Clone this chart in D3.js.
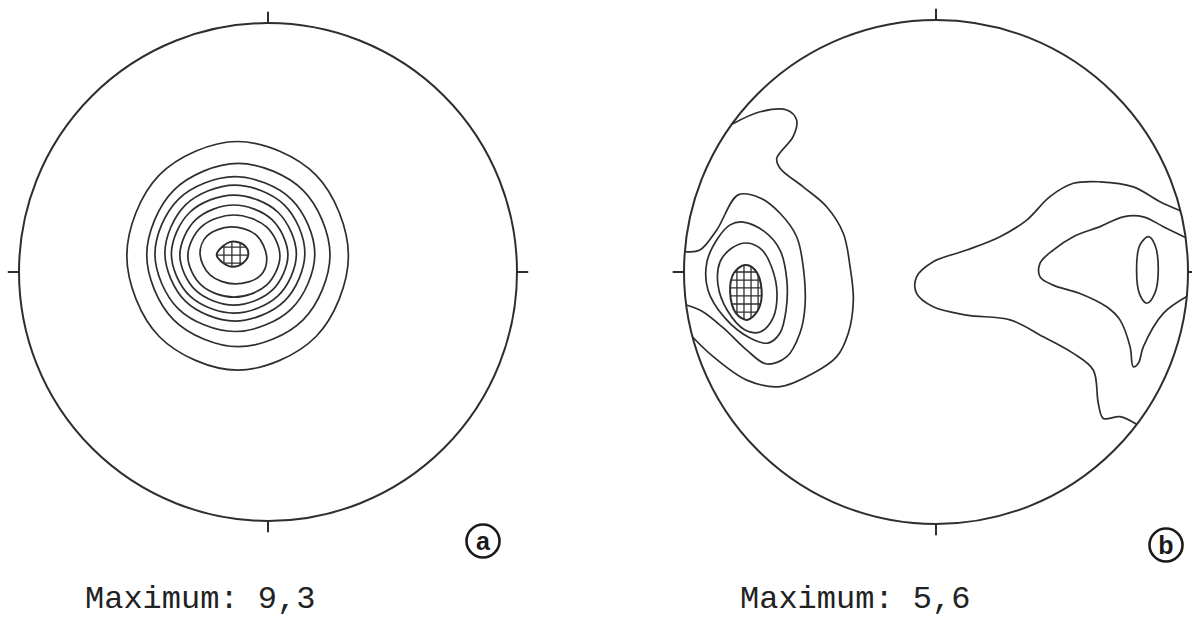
<!DOCTYPE html>
<html><head><meta charset="utf-8">
<script src="https://cdn.jsdelivr.net/npm/d3@7"></script>
<style>body{margin:0;background:#fff}svg{display:block}</style>
</head><body>
<svg id="chart" width="1192" height="621"></svg>
<script>
// ---- data (net coordinates: percent of net radius, x east, y north) ----
const tickAzimuths = [0, 90, 180, 270];
const panelNames = ["a", "b"];
const maxValues = ["9,3", "5,6"];

// Panel a: closed contours, outermost first
const contoursA = [
  [[32.3,6.5],[19.3,38.9],[-12.2,52.4],[-43.7,38.9],[-56.7,6.5],[-43.7,-25.9],[-12.2,-39.4],[19.3,-25.9]],
  [[24.9,6.8],[14.1,32.8],[-11.9,43.6],[-37.9,32.8],[-48.7,6.8],[-37.9,-19.2],[-11.9,-30.0],[14.1,-19.2]],
  [[18.8,7.2],[9.4,29.2],[-13.3,38.3],[-36.0,29.2],[-45.4,7.2],[-36.0,-14.8],[-13.3,-23.9],[9.4,-14.8]],
  [[14.8,7.6],[6.6,26.9],[-13.3,34.9],[-33.2,26.9],[-41.4,7.6],[-33.2,-11.7],[-13.3,-19.7],[6.6,-11.7]],
  [[11.4,7.2],[4.0,24.0],[-13.7,30.9],[-31.4,24.0],[-38.8,7.2],[-31.4,-9.6],[-13.7,-16.5],[4.0,-9.6]],
  [[8.0,6.8],[1.6,21.0],[-13.7,26.9],[-29.0,21.0],[-35.4,6.8],[-29.0,-7.4],[-13.7,-13.3],[1.6,-7.4]],
  [[4.8,6.4],[-0.6,18.1],[-13.7,22.9],[-26.8,18.1],[-32.2,6.4],[-26.8,-5.3],[-13.7,-10.1],[-0.6,-5.3]],
  [[-0.5,5.6],[-4.8,14.9],[-14.9,18.1],[-24.5,14.5],[-27.3,7.2],[-23.3,-1.2],[-13.3,-4.8],[-3.2,-1.6]]
];
const maximumA = [[-20.6,6.8],[-18.5,10.0],[-14.5,12.2],[-9.6,10.8],[-7.9,7.2],[-10.0,3.6],[-14.5,2.1],[-18.5,4.0]];
const hatchXA = [-17.7, -14.5, -11.2];
const hatchYA = [10.0, 6.8, 3.6];

// Panel b: contours that end on the primitive circle
const openContoursB = [
  [[-81.0,58.6],[-69.8,63.6],[-59.2,64.3],[-55.3,60.3],[-56.7,53.7],[-63.2,45.1],[-61.9,41.2],[-52.7,33.8],[-43.4,25.9],[-36.8,15.4],[-34.1,2.1],[-32.8,-11.1],[-34.8,-24.3],[-39.4,-33.6],[-48.7,-40.2],[-61.9,-45.5],[-75.1,-42.9],[-88.4,-33.6],[-96.6,-25.8]],
  [[-99.6,8.1],[-93.7,8.7],[-87.0,16.7],[-78.5,30.6],[-69.8,29.4],[-61.9,23.3],[-55.3,14.0],[-52.7,2.1],[-52.0,-13.8],[-54.0,-24.3],[-59.2,-33.6],[-67.2,-36.5],[-75.1,-31.0],[-84.4,-22.2],[-93.0,-15.5],[-99.1,-13.1]],
  [[97.0,24.3],[88.9,27.9],[78.3,33.8],[65.1,35.8],[54.5,35.2],[45.2,29.9],[36.0,20.6],[25.4,14.0],[12.2,8.7],[-1.1,4.1],[-7.7,-1.9],[-7.7,-8.5],[-1.1,-13.8],[12.2,-17.1],[29.4,-19.0],[42.6,-25.7],[54.5,-32.3],[62.4,-38.9],[64.4,-52.1],[66.4,-58.1],[73.0,-57.4],[79.4,-60.3]],
  [[99.0,13.7],[90.2,18.0],[82.3,21.9],[74.3,21.9],[65.1,18.0],[54.5,14.0],[46.5,8.7],[41.3,3.5],[41.3,-1.9],[46.5,-5.2],[57.1,-8.5],[67.7,-13.8],[73.0,-19.0],[77.0,-29.6],[78.3,-37.6],[80.3,-36.2],[82.3,-29.6],[90.2,-16.4],[99.5,-9.7]]
];
// Panel b: closed contours
const closedContoursB = [
  [[-76.5,19.8],[-67.9,15.9],[-61.9,8.7],[-59.2,-3.2],[-59.5,-15.1],[-61.9,-24.2],[-66.7,-28.2],[-73.8,-26.2],[-83.7,-18.3],[-90.5,-7.1],[-90.9,4.0],[-86.5,13.5],[-81.7,18.7]],
  [[-75.1,11.5],[-69.0,8.7],[-65.1,1.6],[-63.1,-8.3],[-64.7,-18.3],[-69.8,-23.8],[-75.8,-23.0],[-82.9,-15.1],[-86.5,-5.2],[-85.7,4.0],[-81.0,9.5]],
  [[84.3,14.0],[86.9,10.7],[88.2,0.8],[86.9,-8.3],[83.7,-12.4],[80.9,-9.1],[79.6,0.8],[80.9,10.7]]
];
const maximumB = [[-75.8,2.8],[-71.8,0.8],[-69.2,-7.1],[-70.6,-15.1],[-75.0,-19.0],[-79.4,-16.3],[-81.7,-7.9],[-80.2,-0.4]];
const hatchXB = [-79.0, -76.2, -73.4, -70.6];
const hatchYB = [0, -3.2, -6.3, -9.5, -12.7, -15.9];

// ---- layout ----
const panels = [
  {name: panelNames[0], value: maxValues[0], cx: 268, cy: 272, r: 249,
   closed: contoursA, open: [], maxi: maximumA, hx: hatchXA, hy: hatchYA,
   badge: [483, 541], text: [85, 608]},
  {name: panelNames[1], value: maxValues[1], cx: 936, cy: 272, r: 252,
   closed: closedContoursB, open: openContoursB, maxi: maximumB, hx: hatchXB, hy: hatchYB,
   badge: [1166, 545], text: [740, 608]}
];

const svg = d3.select("#chart");
const ink = "#2e2e2e";

panels.forEach((p, i) => {
  const x = d3.scaleLinear().domain([-100, 100]).range([p.cx - p.r, p.cx + p.r]);
  const y = d3.scaleLinear().domain([-100, 100]).range([p.cy + p.r, p.cy - p.r]);
  const closedLine = d3.line().x(d => x(d[0])).y(d => y(d[1])).curve(d3.curveCatmullRomClosed.alpha(0.5));
  const openLine = d3.line().x(d => x(d[0])).y(d => y(d[1])).curve(d3.curveCatmullRom.alpha(0.5));
  const g = svg.append("g");

  // primitive circle
  g.append("circle").attr("cx", x(0)).attr("cy", y(0)).attr("r", x(100) - x(0))
    .attr("fill", "none").attr("stroke", ink).attr("stroke-width", 2);

  // ticks
  g.selectAll("line.tick").data(tickAzimuths).join("line").attr("class", "tick")
    .attr("x1", a => x(100 * Math.sin(a * Math.PI / 180)))
    .attr("y1", a => y(100 * Math.cos(a * Math.PI / 180)))
    .attr("x2", a => x(104.5 * Math.sin(a * Math.PI / 180)))
    .attr("y2", a => y(104.5 * Math.cos(a * Math.PI / 180)))
    .attr("stroke", ink).attr("stroke-width", 2);

  // hatch in maximum area
  const clipId = "clip-" + i;
  svg.append("clipPath").attr("id", clipId).append("path").attr("d", closedLine(p.maxi));
  const ext = d3.extent(p.maxi, d => d[0]), eyt = d3.extent(p.maxi, d => d[1]);
  const hg = g.append("g").attr("clip-path", `url(#${clipId})`);
  hg.selectAll("line.hx").data(p.hx).join("line").attr("class", "hx")
    .attr("x1", d => x(d)).attr("x2", d => x(d))
    .attr("y1", y(eyt[1] + 2)).attr("y2", y(eyt[0] - 2))
    .attr("stroke", ink).attr("stroke-width", 1.3);
  hg.selectAll("line.hy").data(p.hy).join("line").attr("class", "hy")
    .attr("y1", d => y(d)).attr("y2", d => y(d))
    .attr("x1", x(ext[0] - 2)).attr("x2", x(ext[1] + 2))
    .attr("stroke", ink).attr("stroke-width", 1.3);

  // contours
  g.selectAll("path.closed").data(p.closed).join("path").attr("class", "closed")
    .attr("d", closedLine).attr("fill", "none").attr("stroke", ink).attr("stroke-width", 1.7)
    .attr("stroke-linejoin", "round");
  g.selectAll("path.open").data(p.open).join("path").attr("class", "open")
    .attr("d", openLine).attr("fill", "none").attr("stroke", ink).attr("stroke-width", 1.7)
    .attr("stroke-linejoin", "round");
  g.append("path").attr("d", closedLine(p.maxi)).attr("fill", "none")
    .attr("stroke", ink).attr("stroke-width", 2);

  // badge
  g.append("circle").attr("cx", p.badge[0]).attr("cy", p.badge[1]).attr("r", 16.5)
    .attr("fill", "none").attr("stroke", "#1a1a1a").attr("stroke-width", 2.6);
  g.append("text").attr("x", p.badge[0]).attr("y", p.badge[1] + 8.5)
    .attr("text-anchor", "middle").attr("font-family", "Liberation Sans, Arial, sans-serif")
    .attr("font-weight", "bold").attr("font-size", 25).attr("fill", "#1a1a1a").text(p.name);

  // maximum label
  g.append("text").attr("x", p.text[0]).attr("y", p.text[1])
    .attr("font-family", "Liberation Mono, Courier New, monospace")
    .attr("font-size", 32).attr("fill", "#222")
    .text("Maximum: " + p.value);
});
</script>
</body></html>
